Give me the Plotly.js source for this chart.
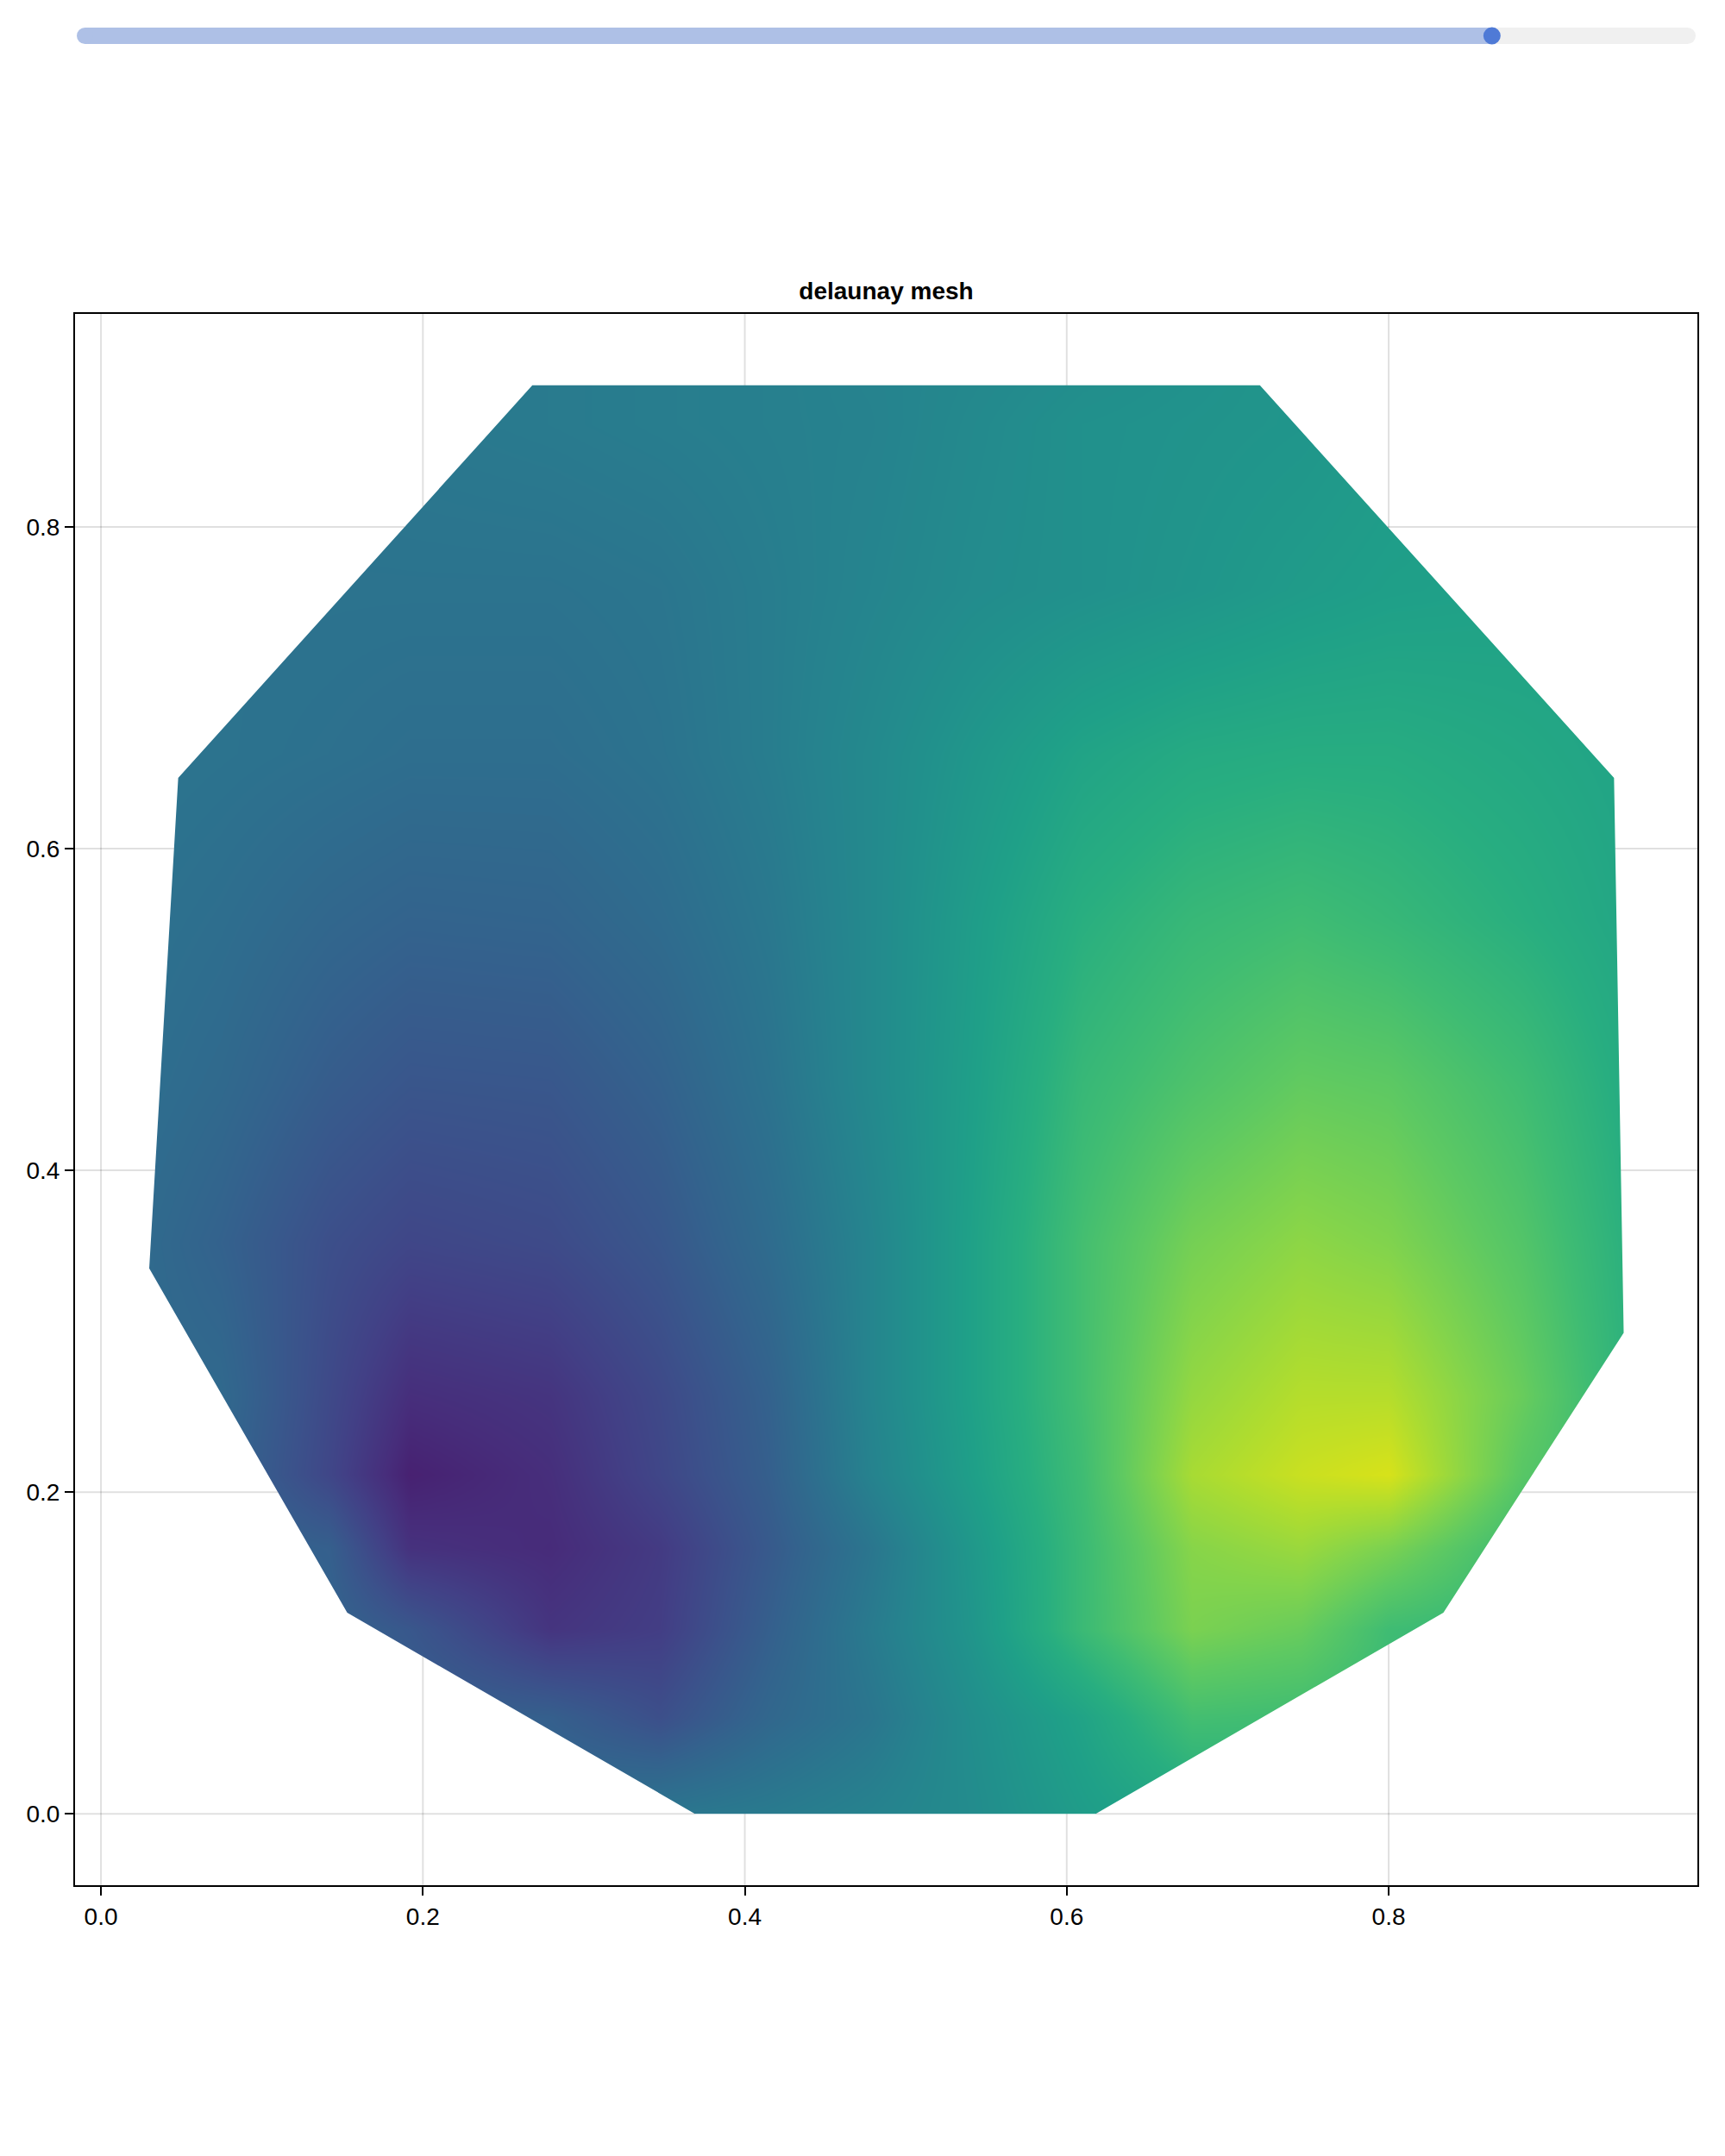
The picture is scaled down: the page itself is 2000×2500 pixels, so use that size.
<!DOCTYPE html>
<html>
<head>
<meta charset="utf-8">
<script src="https://cdn.plot.ly/plotly-3.0.1.min.js"></script>
<style>html,body{margin:0;padding:0;background:#fff}</style>
</head>
<body>
<div id="chart" style="width:2000px;height:2500px"></div>
<script>
// ---- data ----
// outline of the triangulated region (convex hull vertices, clockwise)
const hullX = [0.268, 0.720, 0.940, 0.946, 0.834, 0.618, 0.369, 0.153, 0.030, 0.048];
const hullY = [0.888, 0.888, 0.644, 0.299, 0.125, 0.000, 0.000, 0.125, 0.339, 0.644];

// colour value (position on the viridis scale, 0..1) sampled on a grid of points
const gridX = [0.005, 0.074, 0.142, 0.192, 0.279, 0.347, 0.415, 0.478, 0.541, 0.610, 0.678, 0.746, 0.800, 0.883, 0.951];
const gridY = [0.000, 0.060, 0.115, 0.165, 0.211, 0.260, 0.355, 0.454, 0.556, 0.659, 0.761, 0.864, 0.910];
const row000 = [0.35, 0.35, 0.35, 0.35, 0.35, 0.39, 0.41, 0.44, 0.48, 0.55, 0.60, 0.65, 0.66, 0.66, 0.66];
const row060 = [0.31, 0.31, 0.31, 0.31, 0.30, 0.24, 0.33, 0.39, 0.49, 0.58, 0.70, 0.69, 0.67, 0.66, 0.65];
const row115 = [0.33, 0.33, 0.32, 0.27, 0.15, 0.18, 0.30, 0.41, 0.52, 0.68, 0.80, 0.77, 0.69, 0.66, 0.64];
const row165 = [0.33, 0.33, 0.30, 0.14, 0.12, 0.17, 0.28, 0.39, 0.53, 0.68, 0.82, 0.85, 0.80, 0.68, 0.66];
const row211 = [0.33, 0.33, 0.21, 0.09, 0.13, 0.21, 0.30, 0.44, 0.56, 0.69, 0.87, 0.92, 0.94, 0.74, 0.66];
const row260 = [0.35, 0.34, 0.22, 0.13, 0.15, 0.22, 0.31, 0.45, 0.57, 0.70, 0.84, 0.89, 0.89, 0.77, 0.64];
const row355 = [0.36, 0.31, 0.24, 0.21, 0.225, 0.27, 0.35, 0.45, 0.57, 0.70, 0.79, 0.83, 0.81, 0.73, 0.63];
const row454 = [0.37, 0.34, 0.29, 0.265, 0.27, 0.31, 0.38, 0.47, 0.56, 0.67, 0.72, 0.76, 0.75, 0.69, 0.61];
const row556 = [0.38, 0.36, 0.33, 0.315, 0.32, 0.35, 0.40, 0.47, 0.55, 0.63, 0.67, 0.69, 0.67, 0.63, 0.59];
const row659 = [0.39, 0.38, 0.37, 0.36, 0.36, 0.38, 0.42, 0.47, 0.525, 0.58, 0.61, 0.62, 0.62, 0.60, 0.58];
const row761 = [0.38, 0.38, 0.38, 0.38, 0.38, 0.39, 0.42, 0.45, 0.48, 0.50, 0.52, 0.545, 0.56, 0.57, 0.58];
const row864 = [0.39, 0.39, 0.39, 0.40, 0.41, 0.42, 0.43, 0.44, 0.47, 0.50, 0.51, 0.52, 0.54, 0.56, 0.57];
const row910 = [0.40, 0.40, 0.40, 0.40, 0.41, 0.42, 0.43, 0.445, 0.46, 0.48, 0.50, 0.52, 0.54, 0.56, 0.57];
const gridZ = [row000, row060, row115, row165, row211, row260, row355, row454, row556, row659, row761, row864, row910];

const xTickVals = [0.0, 0.2, 0.4, 0.6, 0.8];
const xTickText = ["0.0", "0.2", "0.4", "0.6", "0.8"];
const yTickVals = [0.0, 0.2, 0.4, 0.6, 0.8];
const yTickText = ["0.0", "0.2", "0.4", "0.6", "0.8"];
const sliderFraction = 0.878;
const chartTitle = "delaunay mesh";

// ---- layout geometry (pixels of the 2000x2500 page) ----
const W = 2000, H = 2500;
const plotL = 87, plotR = 1968, plotT = 364, plotB = 2186;
const xRange = [-0.0161, 0.9918];
const yRange = [-0.0444, 0.9324];
const font = "Liberation Sans, Arial, Helvetica, sans-serif";
const gridCol = 'rgba(0,0,0,0.12)';

// colour field
const fieldTrace = {
  type: 'heatmap', x: gridX, y: gridY, z: gridZ,
  colorscale: 'Viridis', zmin: 0, zmax: 1, zsmooth: 'best',
  showscale: false, hoverinfo: 'skip'
};

// white mask: plot area minus the hull (outer ring runs opposite to the hull)
const outerX = [-0.2, 1.2, 1.2, -0.2, -0.2];
const outerY = [-0.2, -0.2, 1.2, 1.2, -0.2];
const maskX = hullX.concat([hullX[0]]).concat(outerX).concat([hullX[0]]);
const maskY = hullY.concat([hullY[0]]).concat(outerY).concat([hullY[0]]);
const maskTrace = {
  type: 'scatter', x: maskX, y: maskY, mode: 'lines', fill: 'toself',
  fillcolor: '#ffffff', line: {width: 0, color: 'rgba(0,0,0,0)'},
  hoverinfo: 'skip', showlegend: false
};

// grid line pieces that lie outside the hull (inside they are hidden by the mesh)
function hullSpan(c, vertical) {
  let lo = Infinity, hi = -Infinity;
  const n = hullX.length;
  for (let i = 0; i < n; i++) {
    const j = (i + 1) % n;
    const a = vertical ? [hullX[i], hullY[i]] : [hullY[i], hullX[i]];
    const b = vertical ? [hullX[j], hullY[j]] : [hullY[j], hullX[j]];
    if ((a[0] - c) * (b[0] - c) <= 0 && a[0] !== b[0]) {
      const t = (c - a[0]) / (b[0] - a[0]);
      const v = a[1] + t * (b[1] - a[1]);
      lo = Math.min(lo, v); hi = Math.max(hi, v);
    }
  }
  return [lo, hi];
}
const shapes = [];
function gridSeg(x0, y0, x1, y1) {
  shapes.push({type: 'line', xref: 'x', yref: 'y', x0: x0, y0: y0, x1: x1, y1: y1,
    line: {color: gridCol, width: 2}, layer: 'above'});
}
xTickVals.forEach(c => {
  const s = hullSpan(c, true);
  if (!isFinite(s[0])) { gridSeg(c, yRange[0], c, yRange[1]); return; }
  gridSeg(c, yRange[0], c, s[0]); gridSeg(c, s[1], c, yRange[1]);
});
yTickVals.forEach(c => {
  const s = hullSpan(c, false);
  if (!isFinite(s[0])) { gridSeg(xRange[0], c, xRange[1], c); return; }
  gridSeg(xRange[0], c, s[0], c); gridSeg(s[1], c, xRange[1], c);
});

// slider decoration
const px2x = px => (px - plotL) / (plotR - plotL);
const py2y = py => (plotB - py) / (plotB - plotT);
const barL = 89, barR = 1966, barCY = 41.5, barH = 19;
const r = barH / 2;
const capL = barL + r, capR = barR - r;
const knobX = capL + sliderFraction * (capR - capL);
const active = '#aec0e6', inactive = '#f0f0f0', knobCol = '#4f7ad6';
function pill(x0, x1, col) {
  return {type: 'rect', xref: 'paper', yref: 'paper', x0: px2x(x0), x1: px2x(x1),
    ysizemode: 'pixel', yanchor: py2y(barCY), y0: -r, y1: r, fillcolor: col, line: {width: 0}, layer: 'above'};
}
function dot(cx, rad, col) {
  return {type: 'circle', xref: 'paper', yref: 'paper', xsizemode: 'pixel', ysizemode: 'pixel',
    xanchor: px2x(cx), yanchor: py2y(barCY), x0: -rad, x1: rad, y0: -rad, y1: rad,
    fillcolor: col, line: {width: 0}, layer: 'above'};
}
shapes.push(pill(capL, knobX, active), pill(knobX, capR, inactive),
  dot(capL, r, active), dot(capR, r, inactive), dot(knobX, r + 0.5, knobCol));

const axisCommon = {
  showgrid: true, gridcolor: gridCol, gridwidth: 2,
  zeroline: false, showline: true, linecolor: '#000', linewidth: 2, mirror: true,
  ticks: 'outside', ticklen: 10, tickwidth: 2, tickcolor: '#000',
  tickfont: {family: font, size: 28, color: '#000'}, fixedrange: true, layer: 'above traces'
};

const layout = {
  width: W, height: H,
  paper_bgcolor: '#fff', plot_bgcolor: '#fff',
  margin: {l: plotL, r: W - plotR, t: plotT, b: H - plotB, pad: 0},
  showlegend: false,
  title: {text: '<b>' + chartTitle + '</b>', font: {family: font, size: 28, color: '#000'},
    x: 0.5, xref: 'paper', xanchor: 'center', y: 1 - 347 / H, yref: 'container', yanchor: 'bottom'},
  xaxis: Object.assign({}, axisCommon, {range: xRange, tickvals: xTickVals, ticktext: xTickText}),
  yaxis: Object.assign({}, axisCommon, {range: yRange, tickvals: yTickVals, ticktext: yTickText}),
  shapes: shapes
};

Plotly.newPlot('chart', [fieldTrace, maskTrace], layout, {displayModeBar: false, staticPlot: true});
</script>
</body>
</html>
